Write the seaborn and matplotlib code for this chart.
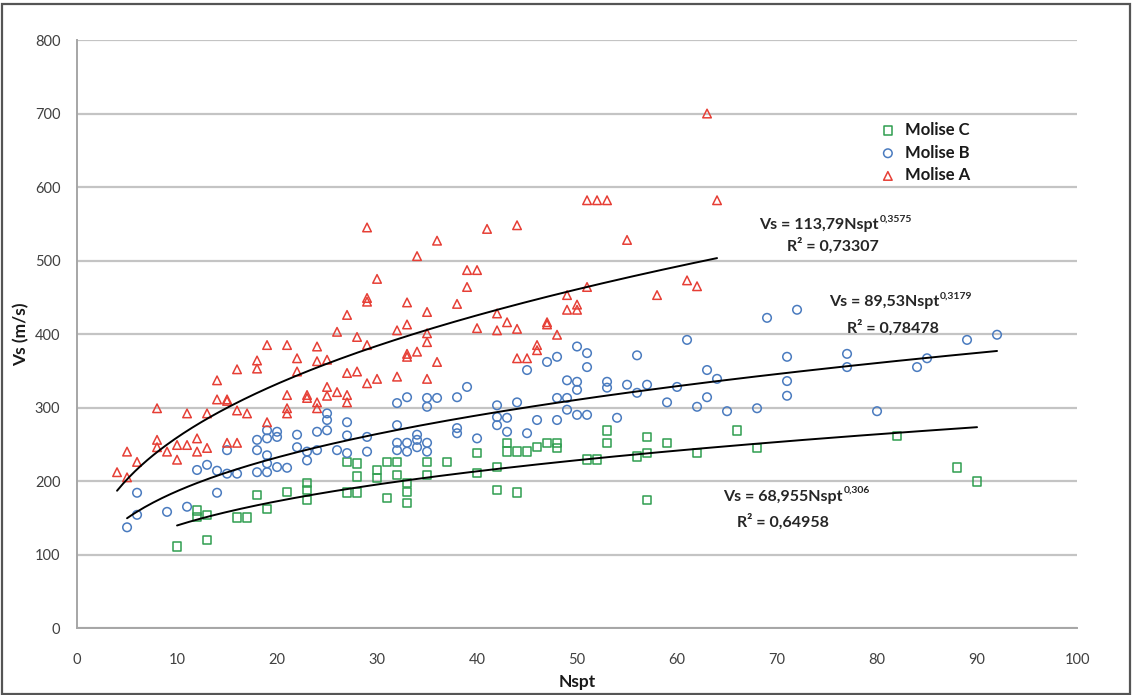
import numpy as np
import pandas as pd
import matplotlib
matplotlib.use("Agg")
import matplotlib.pyplot as plt
from matplotlib.patches import Rectangle
import seaborn as sns

# ---------------- data ----------------
a_nspt = [4, 5, 5, 6, 8, 8, 8, 9, 10, 10, 11, 11, 12, 12, 13, 13, 14, 14, 15, 15, 15,
          16, 16, 16, 17, 18, 18, 19, 19, 21, 21, 21, 21, 22, 22, 23, 23, 24, 24, 24, 24,
          25, 25, 25, 26, 26, 27, 27, 27, 27, 28, 28, 29, 29, 29, 29, 29, 30, 30, 32, 32,
          33, 33, 33, 33, 34, 34, 35, 35, 35, 35, 36, 36, 38, 39, 39, 40, 40, 41, 42, 42,
          43, 44, 44, 44, 45, 46, 46, 47, 47, 48, 49, 49, 50, 50, 51, 51, 52, 53, 55, 58,
          61, 62, 63, 64]
a_vs = [212, 240, 205, 226, 299, 256, 246, 240, 249, 229, 292, 249, 258, 240, 292, 245, 337, 311, 311, 309, 252,
        352, 296, 252, 292, 364, 353, 385, 280, 385, 317, 299, 292, 367, 349, 317, 313, 383, 363, 307, 299,
        365, 328, 316, 403, 321, 426, 347, 317, 307, 396, 349, 545, 449, 444, 385, 333, 475, 339, 405, 342,
        443, 413, 373, 369, 506, 376, 430, 401, 389, 339, 527, 362, 441, 487, 464, 487, 408, 543, 428, 405,
        416, 548, 407, 367, 367, 385, 378, 416, 413, 399, 453, 433, 440, 433, 582, 464, 582, 582, 528, 453,
        473, 465, 700, 582]

b_nspt = [5, 6, 6, 9, 11, 12, 13, 14, 14, 15, 15, 16, 18, 18, 18, 19, 19, 19, 19, 19,
          20, 20, 20, 21, 22, 22, 23, 23, 24, 24, 25, 25, 25, 26, 27, 27, 27, 29, 29,
          32, 32, 32, 32, 33, 33, 33, 34, 34, 34, 35, 35, 35, 35, 36, 38, 38, 38, 39, 40,
          42, 42, 42, 43, 43, 44, 45, 45, 46, 47, 48, 48, 48, 49, 49, 49, 50, 50, 50, 50,
          51, 51, 51, 53, 53, 54, 55, 56, 56, 57, 59, 60, 61, 62, 63, 63, 64, 65, 68, 69,
          71, 71, 71, 72, 77, 77, 80, 84, 85, 89, 92]
b_vs = [137, 154, 184, 158, 165, 215, 222, 214, 184, 242, 210, 210, 256, 242, 212, 269, 258, 235, 224, 212,
        267, 260, 219, 218, 263, 246, 240, 228, 267, 242, 292, 283, 269, 242, 280, 262, 238, 260, 240,
        306, 276, 252, 242, 314, 252, 240, 263, 256, 246, 313, 301, 252, 240, 313, 314, 272, 265, 328, 258,
        303, 287, 276, 286, 267, 307, 351, 265, 283, 362, 369, 313, 283, 337, 313, 297, 383, 335, 324, 290,
        374, 355, 290, 335, 327, 286, 331, 371, 320, 331, 307, 328, 392, 301, 351, 314, 339, 295, 299, 422,
        369, 336, 316, 433, 373, 355, 295, 355, 367, 392, 399]

c_nspt = [10, 12, 12, 13, 13, 16, 17, 18, 19, 21, 23, 23, 23, 27, 27, 28, 28, 28, 30, 30,
          31, 31, 32, 32, 33, 33, 33, 35, 35, 37, 40, 40, 42, 42, 43, 43, 44, 44, 45, 46,
          47, 48, 48, 51, 52, 53, 53, 56, 57, 57, 57, 59, 62, 66, 68, 82, 88, 90]
c_vs = [111, 160, 151, 154, 120, 150, 150, 181, 162, 185, 197, 188, 174, 226, 184, 224, 206, 184, 215, 204,
        226, 177, 226, 208, 197, 185, 170, 226, 208, 226, 238, 211, 219, 188, 252, 240, 240, 184, 240, 246,
        252, 252, 245, 229, 229, 269, 252, 233, 260, 238, 174, 252, 238, 269, 245, 261, 218, 199]

series_names = ["Molise C", "Molise B", "Molise A"]
series_colors = ["#2f9e4f", "#4a7bbf", "#e63f36"]
series_markers = ["s", "o", "^"]

# power-law fits Vs = k * Nspt^p, drawn over the range of each series
fit_k = [68.955, 89.53, 113.79]
fit_p = [0.306, 0.3179, 0.3575]
fit_range = [(10, 90), (5, 92), (4, 64)]
fit_eq = ["Vs = 68,955Nspt", "Vs = 89,53Nspt", "Vs = 113,79Nspt"]
fit_exp = ["0,306", "0,3179", "0,3575"]
fit_r2 = ["R\u00b2 = 0,64958", "R\u00b2 = 0,78478", "R\u00b2 = 0,73307"]
eq_pos = [(76.6, 178), (86.2, 443), (80.2, 548)]
r2_pos = [(70.6, 145), (81.6, 409), (75.6, 520)]

x_ticks = list(range(0, 101, 10))
y_ticks = list(range(0, 801, 100))

# ---------------- plot ----------------
sns.set_theme(style="white")
plt.rcParams["font.family"] = ["Lato", "DejaVu Sans"]

fig = plt.figure(figsize=(11.33, 6.95), dpi=100)
ax = fig.add_axes([0.068, 0.0964, 0.8826, 0.846])

frames = [
    pd.DataFrame({"Nspt": c_nspt, "Vs": c_vs}),
    pd.DataFrame({"Nspt": b_nspt, "Vs": b_vs}),
    pd.DataFrame({"Nspt": a_nspt, "Vs": a_vs}),
]

for df, name, col, mk in zip(frames, series_names, series_colors, series_markers):
    sns.scatterplot(data=df, x="Nspt", y="Vs", ax=ax, marker=mk, s=38,
                    color=col, facecolor="none", edgecolor=col, linewidth=1.1,
                    label=name, zorder=3)

for k, p, (x0, x1) in zip(fit_k, fit_p, fit_range):
    xs = np.linspace(x0, x1, 200)
    ys = k * xs ** p
    sns.lineplot(x=xs, y=ys, ax=ax, color="black", linewidth=1.4, zorder=4,
                 legend=False, estimator=None)

for eq, ex, r2, (ex_x, ex_y), (rx, ry) in zip(fit_eq, fit_exp, fit_r2, eq_pos, r2_pos):
    ax.text(ex_x, ex_y, eq, ha="right", va="center", fontsize=11.5,
            fontweight="bold", color="#262626", zorder=5)
    ax.annotate(ex, xy=(ex_x, ex_y), xytext=(0.5, 1.5), textcoords="offset points",
                ha="left", va="bottom", fontsize=7.5, fontweight="bold",
                color="#262626", zorder=5)
    ax.text(rx, ry, r2, ha="center", va="center", fontsize=11.5,
            fontweight="bold", color="#262626", zorder=5)

ax.set_xlim(0, 100)
ax.set_ylim(0, 800)
ax.set_xticks(x_ticks)
ax.set_yticks(y_ticks)
ax.yaxis.grid(True, color="#c4c4c4", linewidth=1.6)
ax.xaxis.grid(False)
ax.set_axisbelow(True)
for side in ["top", "right"]:
    ax.spines[side].set_visible(False)
for side in ["left", "bottom"]:
    ax.spines[side].set_color("#a6a6a6")
    ax.spines[side].set_linewidth(1.4)
ax.tick_params(axis="x", direction="out", length=5, width=1, color="#a6a6a6",
               labelsize=10.5, labelcolor="#404040", pad=13)
ax.tick_params(axis="y", direction="out", length=4, width=1, color="#a6a6a6",
               labelsize=10.5, labelcolor="#404040", pad=8)
ax.set_xlabel("Nspt", fontsize=12.5, fontweight="bold", color="#1a1a1a", labelpad=5)
ax.set_ylabel("Vs (m/s)", fontsize=12.5, fontweight="bold", color="#1a1a1a", labelpad=4)

leg = ax.legend(loc="upper left", bbox_to_anchor=(0.795, 0.872), frameon=False,
                fontsize=12, handletextpad=0.5, labelspacing=0.4,
                borderaxespad=0, handlelength=1.1)
for t in leg.get_texts():
    t.set_fontweight("bold")
    t.set_color("#1a1a1a")

fig.patches.append(Rectangle((0.002, 0.002), 0.995, 0.992, transform=fig.transFigure,
                             fill=False, edgecolor="#555555", linewidth=1.6))

fig.savefig("out.png", dpi=100, facecolor="white")
